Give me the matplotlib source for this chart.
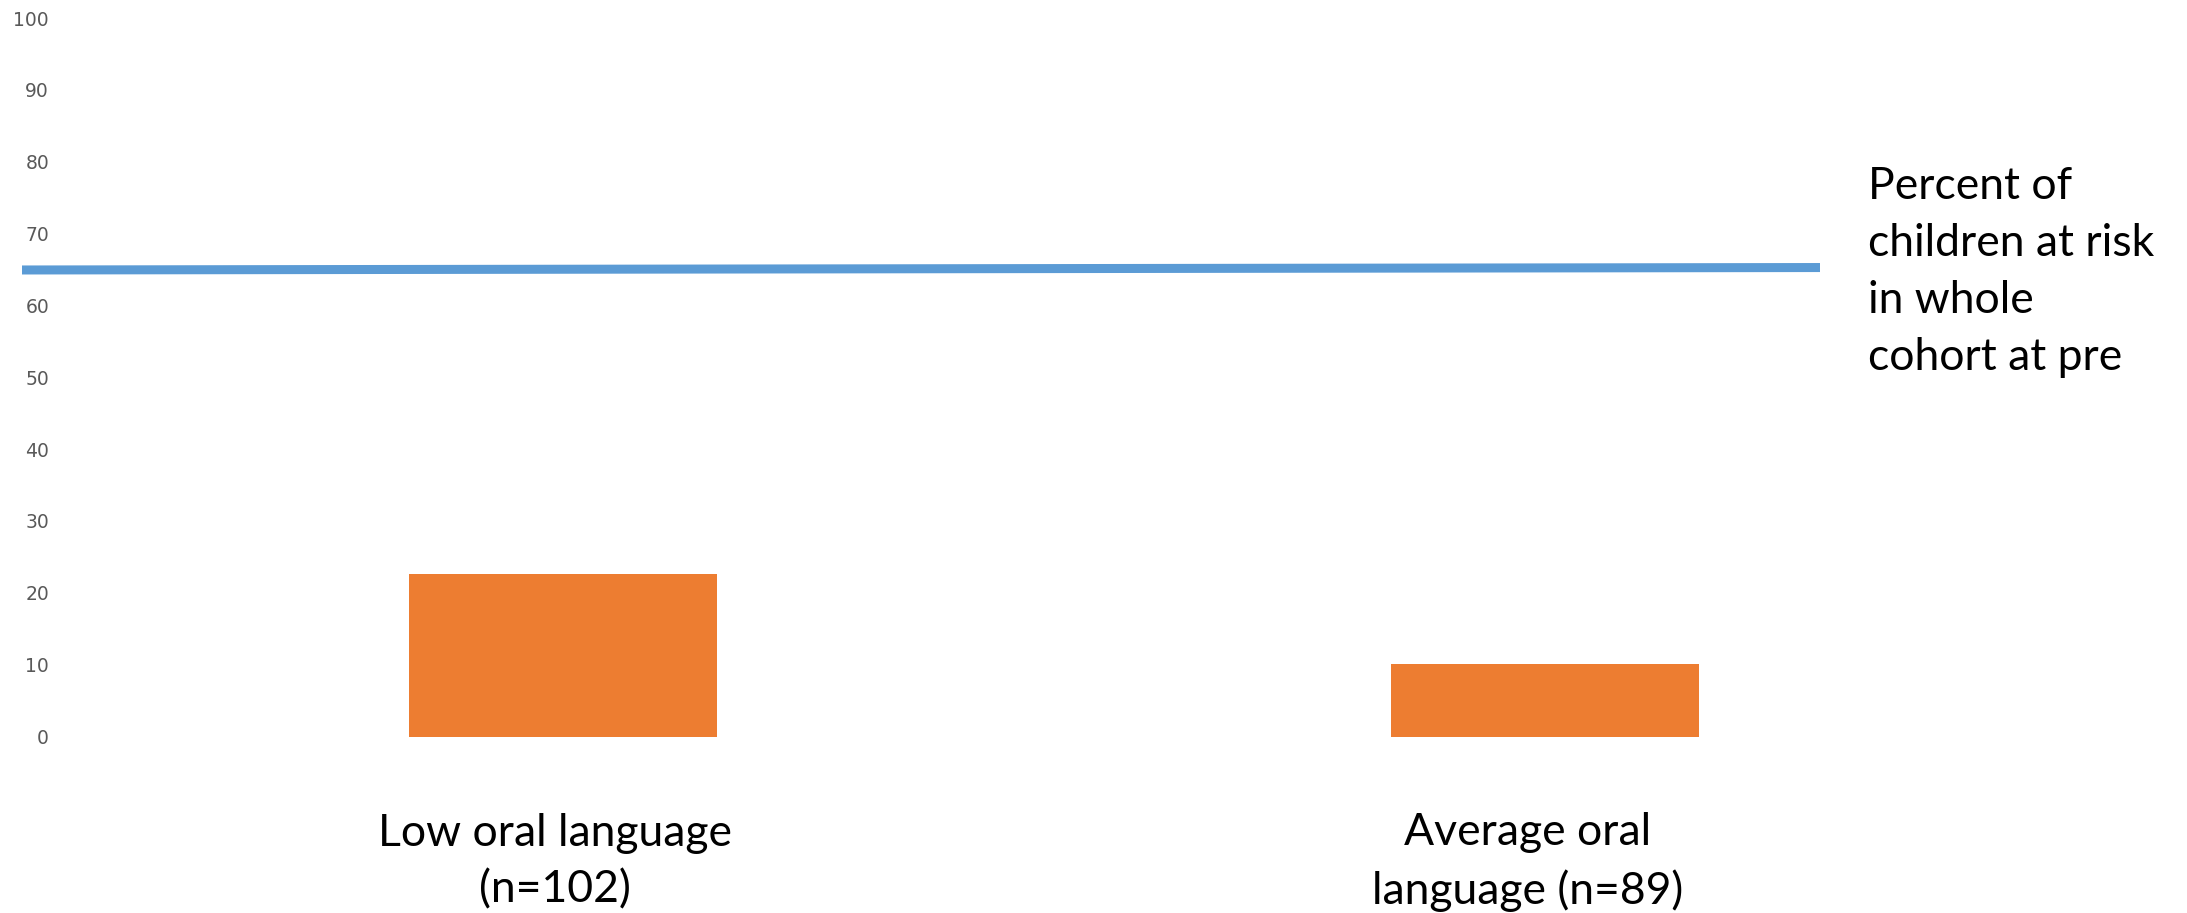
import matplotlib
matplotlib.use("Agg")
import matplotlib.pyplot as plt

categories = ["Low oral language\n(n=102)", "Average oral\nlanguage (n=89)"]
bar_values = [22.6, 10.1]
line_values = [64.93, 65.27]
line_label = "Percent of\nchildren at risk\nin whole\ncohort at pre"
yticks = [0, 10, 20, 30, 40, 50, 60, 70, 80, 90, 100]

W, H = 2187, 913
fig = plt.figure(figsize=(W / 100, H / 100), dpi=100)
left_px, right_px = 22, 1820
y0_px, y100_px = 736.5, 18
ax = fig.add_axes([left_px / W, (H - y0_px) / H, (right_px - left_px) / W, (y0_px - y100_px) / H])

cat_px = [563, 1545]
unit = cat_px[1] - cat_px[0]
xlim = (-(cat_px[0] - left_px) / unit, (right_px - cat_px[0]) / unit)
x = list(range(len(categories)))

ax.bar(x, bar_values, width=308 / unit, color="#ED7D31", zorder=2)
ax.plot(list(xlim), line_values, color="#5B9BD5", linewidth=6.5, solid_capstyle="butt", zorder=3)

ax.set_xlim(*xlim)
ax.set_ylim(0, 100)
ax.set_yticks(yticks)
ax.set_yticklabels([str(t) for t in yticks], fontsize=13.5, color="#595959", family="DejaVu Sans")
ax.tick_params(axis="y", length=0, pad=-19.5)
ax.set_xticks([])
for s in ax.spines.values():
    s.set_visible(False)

for xi, lab, off in zip(x, categories, [-0.008, -0.018]):
    ax.text(xi + off, -17.45, lab, ha="center", va="center", fontsize=32, family="Lato",
            color="black", linespacing=1.45, transform=ax.transData, clip_on=False)

fig.text(1868 / W, 1 - 272 / H, line_label, ha="left", va="center", fontsize=32, family="Lato",
         color="black", linespacing=1.48)

fig.savefig("out.png", dpi=100)
